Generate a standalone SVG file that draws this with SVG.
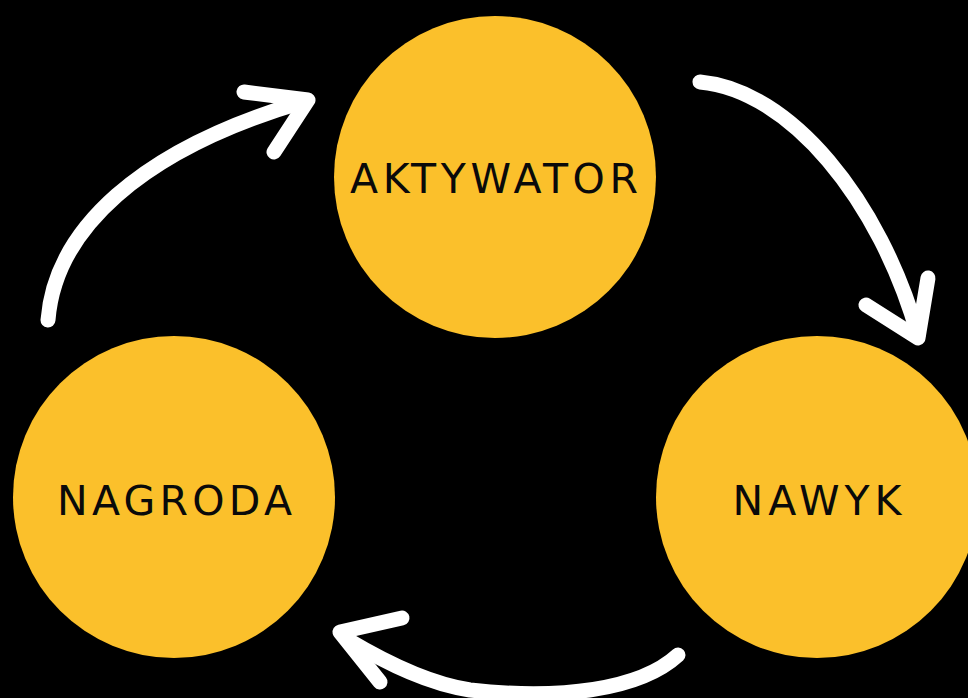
<svg xmlns="http://www.w3.org/2000/svg" width="968" height="698" viewBox="0 0 968 698">
<style>
.node circle{fill:#FBC02B}
.node text{font-family:"DejaVu Sans","Liberation Sans",sans-serif;font-size:41px;fill:#0a0a0a;text-anchor:middle}
.shaft{fill:none;stroke:#fff;stroke-width:15;stroke-linecap:round}
.head{fill:none;stroke:#fff;stroke-width:15;stroke-linecap:round;stroke-linejoin:round}
</style>
<rect width="968" height="698" fill="#000"/>
<g id="aktywator" class="node"><circle cx="495" cy="177" r="161"/><text x="494" y="193" textLength="288" lengthAdjust="spacing">AKTYWATOR</text></g>
<g id="nagroda" class="node"><circle cx="174" cy="497" r="161"/><text x="174.5" y="515" textLength="235" lengthAdjust="spacing">NAGRODA</text></g>
<g id="nawyk" class="node"><circle cx="817" cy="497" r="161"/><text x="817" y="515" textLength="169" lengthAdjust="spacing">NAWYK</text></g>
<g id="connectors">
<path class="shaft" d="M48 320 C55 230 140 150 302 102"/>
<path class="head" d="M244 92 L308 100 L274 152"/>
<path class="shaft" d="M700 82 C790 90 880 200 918 335"/>
<path class="head" d="M866 305 L918 338 L928 278"/>
<path class="shaft" d="M678 655 C640 690 560 700 470 690 C430 684 390 665 348 640"/>
<path class="head" d="M402 618 L340 632 L380 682"/>
</g>
</svg>
